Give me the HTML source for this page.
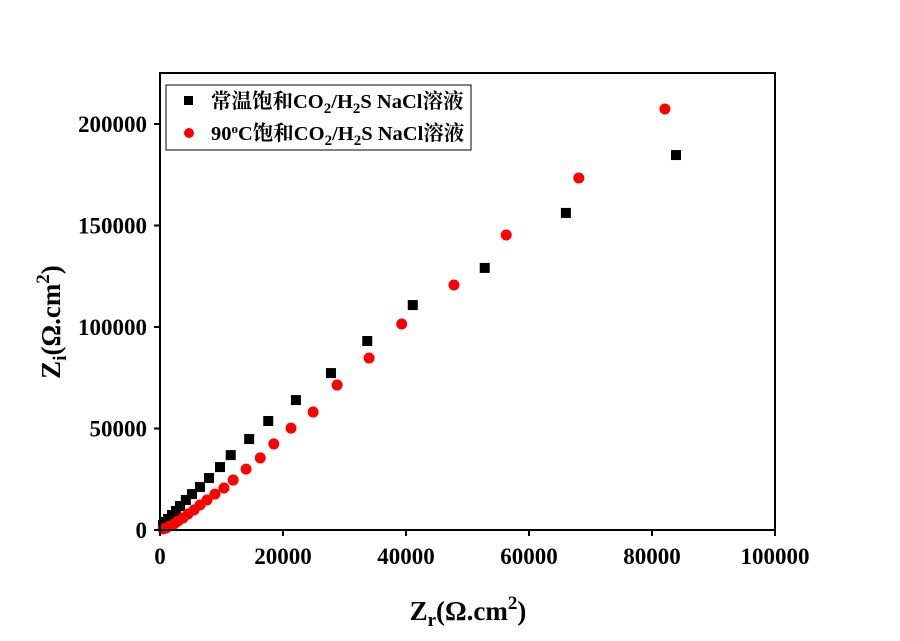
<!DOCTYPE html>
<html><head><meta charset="utf-8"><style>
body{margin:0;background:#fff}
svg text{font-family:"Liberation Serif","Noto Serif CJK SC",serif;font-weight:bold}
</style></head><body>
<svg id="chart" width="900" height="636" xmlns="http://www.w3.org/2000/svg">
<rect x="0" y="0" width="900" height="636" fill="#fff"/>
<g id="marks"></g>
<rect x="160" y="73" width="615" height="457" fill="none" stroke="#000" stroke-width="2"/>
<g id="axes"></g>
<text x="468" y="620" font-size="27" text-anchor="middle">Z<tspan font-size="19" dy="6">r</tspan><tspan dy="-6">(Ω.cm</tspan><tspan font-size="19" dy="-11">2</tspan><tspan dy="11">)</tspan></text>
<text transform="translate(60,322) rotate(-90)" font-size="27" text-anchor="middle">Z<tspan font-size="19" dy="6">i</tspan><tspan dy="-6">(Ω.cm</tspan><tspan font-size="19" dy="-11">2</tspan><tspan dy="11">)</tspan></text>
<g>
<rect x="166" y="85" width="305" height="65" fill="#fff" stroke="#000" stroke-width="1"/>
<rect x="184" y="96" width="9" height="9" fill="#000"/>
<text x="211" y="108" font-size="20.5">常温饱和CO<tspan font-size="15" dy="5">2</tspan><tspan dy="-5">/H</tspan><tspan font-size="15" dy="5">2</tspan><tspan dy="-5">S NaCl溶液</tspan></text>
<circle cx="189" cy="133" r="5" fill="#ff0000"/>
<text x="211" y="140" font-size="20.5">90<tspan font-size="13" dy="-7">o</tspan><tspan dy="7">C饱和CO</tspan><tspan font-size="15" dy="5">2</tspan><tspan dy="-5">/H</tspan><tspan font-size="15" dy="5">2</tspan><tspan dy="-5">S NaCl溶液</tspan></text>
</g>
</svg>
<script>
const xTicks=[0,20000,40000,60000,80000,100000];
const yTicks=[0,50000,100000,150000,200000];
const roomZr=[83900,66000,52800,41100,33700,27800,22100,17600,14500,11500,9760,7970,6500,5200,4200,3250,2600,1950,1300,810,490];
const roomZi=[184700,156200,129100,110800,93100,77300,64000,53700,44800,36900,31000,25600,21200,17700,14800,11800,9360,7390,5420,3940,2460];
const hotZr=[82100,68100,56300,47800,39300,34000,28800,24900,21300,18500,16300,14000,11900,10400,8940,7640,6500,5530,4550,3740,2930,2280,1630,980,490];
const hotZi=[207400,173400,145300,120700,101500,84700,71400,58100,50200,42400,35500,30000,24600,20700,17700,14800,12300,9850,7880,5910,4430,2960,1970,985,490];
const X=v=>160+v*615/100000;
const Y=v=>530-v*406/200000;
const NS="http://www.w3.org/2000/svg";
const axes=document.getElementById('axes'),marks=document.getElementById('marks');
function mk(tag,attrs,parent){const e=document.createElementNS(NS,tag);for(const k in attrs)e.setAttribute(k,attrs[k]);parent.appendChild(e);return e;}
xTicks.forEach(t=>{
 const l=mk('line',{x1:X(t),x2:X(t),y1:530,y2:536,stroke:'#000','stroke-width':2},axes);
 
 
 const tx=mk('text',{x:X(t),y:564,'font-size':23,'text-anchor':'middle'},axes);tx.textContent=t;
 
 
});
yTicks.forEach(t=>{
 const l=mk('line',{x1:154,x2:160,y1:Y(t),y2:Y(t),stroke:'#000','stroke-width':2},axes);
 
 
 const tx=mk('text',{x:147,y:Y(t)+8,'font-size':23,'text-anchor':'end'},axes);tx.textContent=t;
 
 
});
roomZr.forEach((v,i)=>{
 const r=mk('rect',{x:X(v)-5,y:Y(roomZi[i])-5,width:10,height:10,fill:'#000'},marks);
 
 
});
hotZr.forEach((v,i)=>{
 const c=mk('circle',{cx:X(v),cy:Y(hotZi[i]),r:5.5,fill:'#ff0000'},marks);
 
 
});
</script>
</body></html>
